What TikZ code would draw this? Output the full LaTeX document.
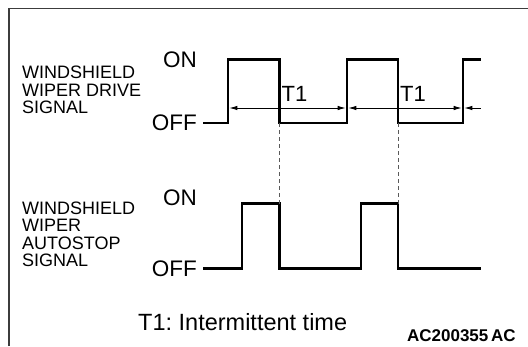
\documentclass[tikz,border=0pt]{standalone}
\usepackage{fontspec}
\setmainfont{Liberation Sans}
\usepackage{tikz}
\usetikzlibrary{arrows.meta}
\definecolor{framegray}{RGB}{60,60,60}
\definecolor{dashgray}{RGB}{90,90,90}
\frenchspacing

\begin{document}
\begin{tikzpicture}[x=1pt,y=-1pt,>={Latex[length=8pt,width=4.5pt]}]
  \tikzset{
    sig/.style={draw=black,line width=2.4pt},
    dim/.style={draw=black,line width=0.9pt,<->,shorten <=1.3pt,shorten >=1.3pt},
    guide/.style={draw=dashgray,line width=0.9pt,dash pattern=on 4pt off 3pt},
    lbl/.style={align=left,inner sep=0pt,anchor=west,font=\fontsize{18}{17.5}\selectfont},
    lvl/.style={inner sep=0pt,anchor=east,font=\fontsize{22.5}{24}\selectfont},
    tlbl/.style={inner sep=0pt,anchor=base west,font=\fontsize{22}{24}\selectfont}
  }
  \useasboundingbox (0,0) rectangle (528,346);
  % frame
  \draw[framegray,line width=1.3pt] (9,346) -- (9,8.5) -- (528,8.5);

  % drive signal
  \node[lbl] (drvtxt) at (22,90) {WINDSHIELD\\ WIPER DRIVE\\ SIGNAL};
  \node[lvl] (drvon) at (197,59.5) {ON};
  \node[lvl] (drvoff) at (197,123) {OFF};
  \coordinate (dr1) at (228,108);
  \coordinate (df1) at (279.5,123);
  \coordinate (dr2) at (347,108);
  \coordinate (df2) at (398,123);
  \coordinate (dr3) at (463,108);
  \coordinate (dend) at (480.5,108);
  \draw[sig] (203,123) -| (228,59.5) -| (279.5,123) -| (347,59.5) -| (398,123) -| (463,59.5) -- (480.5,59.5);
  \draw[dim] (dr1) -- (dr2);
  \draw[dim] (dr2) -- (dr3);
  \draw[dim,<-,shorten >=0pt] (dr3) -- (dend);
  \node[tlbl] (t1a) at (281.5,101.5) {T1};
  \node[tlbl] (t1b) at (400,101.5) {T1};

  % autostop signal
  \node[lbl] (autotxt) at (22,234.5) {WINDSHIELD\\ WIPER\\ AUTOSTOP\\ SIGNAL};
  \node[lvl] (auton) at (197,198) {ON};
  \node[lvl] (autooff) at (197,268.5) {OFF};
  \coordinate (af1) at (279.5,203.5);
  \coordinate (af2) at (398,203.5);
  \draw[sig] (203,268.5) -| (242,203.5) -| (279.5,268.5) -| (361,203.5) -| (398,268.5) -- (480.5,268.5);
  \draw[guide] (df1) -- (af1);
  \draw[guide] (df2) -- (af2);

  \node[inner sep=0pt,anchor=base west,font=\fontsize{23.5}{25}\selectfont] (note) at (138,330) {T1: Intermittent time};
  \node[inner sep=0pt,anchor=base east,font=\fontsize{17}{18}\selectfont\bfseries] (code) at (516,341) {AC200355\,AC};
\end{tikzpicture}
\end{document}
